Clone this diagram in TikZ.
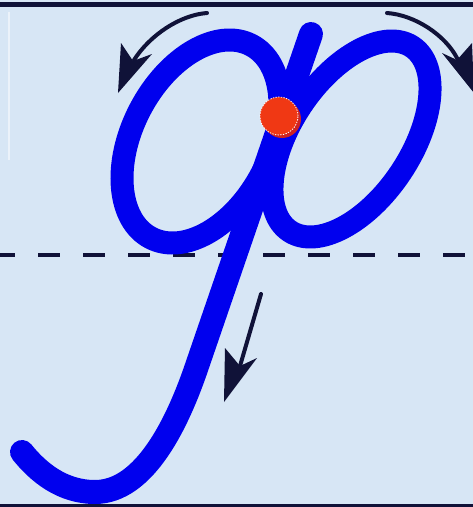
\documentclass[tikz,border=0pt]{standalone}
\definecolor{bg}{RGB}{215,230,245}
\definecolor{ink}{RGB}{0,0,238}
\definecolor{navy}{RGB}{16,18,56}
\definecolor{dotred}{RGB}{240,56,20}
\definecolor{dotshadow}{RGB}{205,35,35}
\begin{document}
\begin{tikzpicture}[x=0.75pt,y=-0.75pt,
  letter/.style={draw=ink, line width=17.25pt, line cap=round, line join=round},
  guide/.style={draw=navy, line width=3pt, line cap=round},
  head/.style={fill=navy},
  startdot/.style={circle, fill=dotred, minimum size=28.5pt, inner sep=0pt, draw=white, line width=0.6pt, dash pattern=on 1pt off 1pt}]
\useasboundingbox (0,0) rectangle (473,507);
\fill[bg] (0,0) rectangle (473,507);
\draw[white, line width=1.5pt, opacity=0.5] (9,12) -- (9,160);
\draw[navy, line width=3.75pt] (0,4.5) -- (473,4.5);
\draw[navy, line width=2.25pt] (0,505.5) -- (473,505.5);
\draw[navy, line width=3pt, dash pattern=on 16.5pt off 17.25pt, dash phase=5.25pt] (0,255) -- (473,255);
% loops
\draw[letter, shift={(201,141.5)}, rotate=62.5] (0,0) ellipse [x radius=81.5pt, y radius=51.6pt];
\draw[letter, shift={(351,139)}, rotate=56.4] (0,0) ellipse [x radius=83pt, y radius=45pt];
% stem
\draw[letter, line width=18pt] (311,34) -- (197,366) .. controls (178,422) and (145,492) .. (95,492) .. controls (62,492) and (38,472) .. (22,452);
% start dot
\fill[dotshadow] (282,119) circle [radius=14.25pt];
\node[startdot] (dot) at (279,116) {};
% direction arrows
\draw[guide] (207,13) .. controls (180,15) and (150,35) .. (134,60);
\fill[head] (118,93) -- (121,43) -- (133,61) -- (152,54) -- cycle;
\draw[guide] (387,13) .. controls (415,15) and (445,35) .. (457,58);
\fill[head] (474,93) -- (442,53) -- (457,60) -- (472,43) -- cycle;
\draw[guide] (261,294) -- (240,366);
\fill[head] (224,402) -- (225,348) -- (240,366) -- (257,358) -- cycle;
\end{tikzpicture}
\end{document}
